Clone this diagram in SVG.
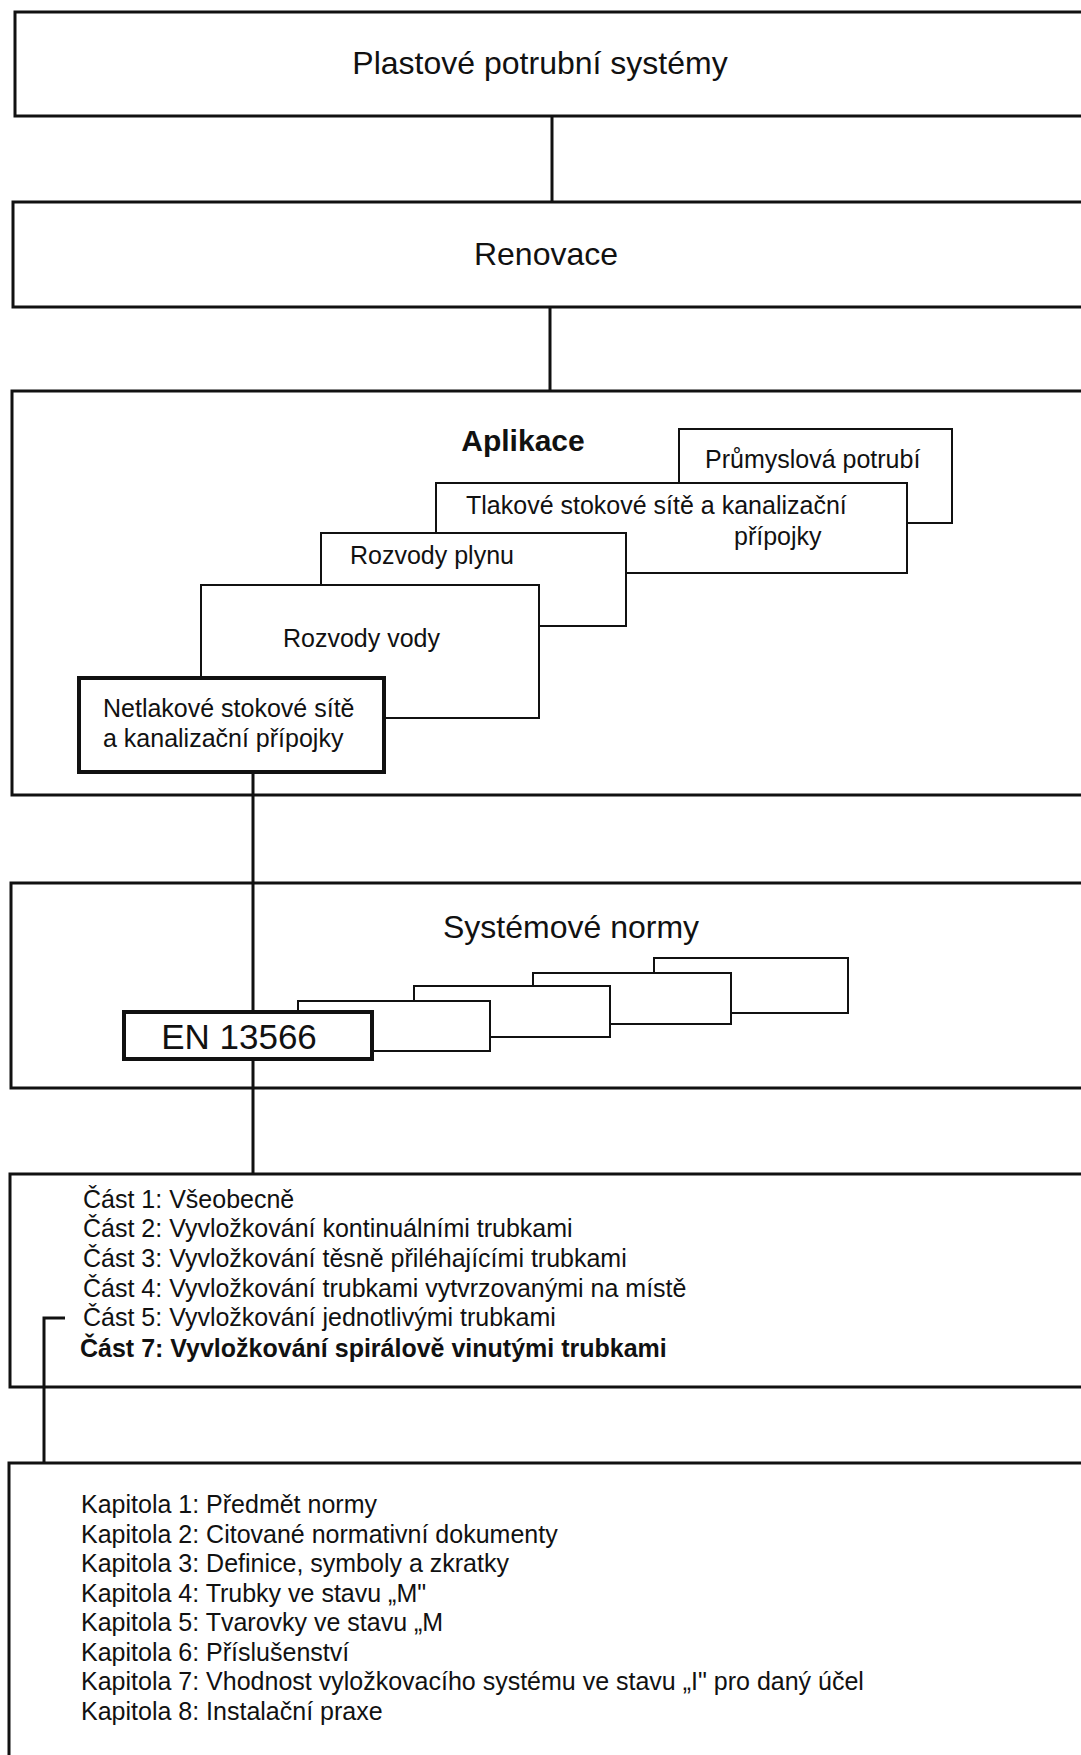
<svg xmlns="http://www.w3.org/2000/svg" width="1081" height="1755" viewBox="0 0 1081 1755">
<style>
.frame{fill:#fff;stroke:#111;stroke-width:3}
.card{fill:#fff;stroke:#111;stroke-width:2}
.key{fill:#fff;stroke:#111;stroke-width:4}
.conn{fill:none;stroke:#111;stroke-width:3}
text{font-family:"Liberation Sans",Arial,sans-serif;fill:#111}
.h{font-size:32px}
.hb{font-size:30px;font-weight:bold}
.t{font-size:25px}
.tb{font-size:25px;font-weight:bold}
.en{font-size:35px}
</style>
<rect width="1081" height="1755" fill="#fff"/>
<g id="plastove">
<rect class="frame" x="15" y="12" width="1080" height="104"/>
<text class="h" x="540" y="74" text-anchor="middle">Plastové potrubní systémy</text>
</g>
<g id="renovace">
<rect class="frame" x="13" y="202" width="1080" height="105"/>
<text class="h" x="546" y="265" text-anchor="middle">Renovace</text>
</g>
<g id="aplikace">
<rect class="frame" x="12" y="391" width="1080" height="404"/>
<text class="hb" x="523" y="451" text-anchor="middle">Aplikace</text>
</g>
<g id="systemove-normy">
<rect class="frame" x="11" y="883" width="1080" height="205"/>
<text class="h" x="571" y="938" text-anchor="middle">Systémové normy</text>
</g>
<g id="casti">
<rect class="frame" x="10" y="1174" width="1080" height="213"/>
<text class="t" x="83" y="1208">Část 1: Všeobecně</text>
<text class="t" x="83" y="1237">Část 2: Vyvložkování kontinuálními trubkami</text>
<text class="t" x="83" y="1267">Část 3: Vyvložkování těsně přiléhajícími trubkami</text>
<text class="t" x="83" y="1297">Část 4: Vyvložkování trubkami vytvrzovanými na místě</text>
<text class="t" x="83" y="1326">Část 5: Vyvložkování jednotlivými trubkami</text>
<text class="tb" x="80" y="1357">Část 7: Vyvložkování spirálově vinutými trubkami</text>
</g>
<g id="kapitoly">
<rect class="frame" x="9" y="1463" width="1080" height="320"/>
<text class="t" x="81" y="1513">Kapitola 1: Předmět normy</text>
<text class="t" x="81" y="1542.5">Kapitola 2: Citované normativní dokumenty</text>
<text class="t" x="81" y="1572">Kapitola 3: Definice, symboly a zkratky</text>
<text class="t" x="81" y="1601.5">Kapitola 4: Trubky ve stavu „M"</text>
<text class="t" x="81" y="1631">Kapitola 5: Tvarovky ve stavu „M</text>
<text class="t" x="81" y="1660.5">Kapitola 6: Příslušenství</text>
<text class="t" x="81" y="1690">Kapitola 7: Vhodnost vyložkovacího systému ve stavu „I" pro daný účel</text>
<text class="t" x="81" y="1719.5">Kapitola 8: Instalační praxe</text>
</g>
<g id="connectors">
<path class="conn" d="M552 116 V202"/>
<path class="conn" d="M550 307 V391"/>
<path class="conn" d="M253 772 V1174"/>
<path class="conn" d="M65 1318 H44 V1463"/>
</g>
<g id="prumyslova">
<rect class="card" x="679" y="429" width="273" height="94"/>
<text class="t" x="705" y="468">Průmyslová potrubí</text>
</g>
<g id="tlakove">
<rect class="card" x="436" y="483" width="471" height="90"/>
<text class="t" x="466" y="514">Tlakové stokové sítě a kanalizační</text>
<text class="t" x="734" y="545">přípojky</text>
</g>
<g id="plyn">
<rect class="card" x="321" y="533" width="305" height="93"/>
<text class="t" x="350" y="564">Rozvody plynu</text>
</g>
<g id="voda">
<rect class="card" x="201" y="585" width="338" height="133"/>
<text class="t" x="283" y="647">Rozvody vody</text>
</g>
<g id="netlakove">
<rect class="key" x="79" y="678" width="305" height="94"/>
<text class="t" x="103" y="717">Netlakové stokové sítě</text>
<text class="t" x="103" y="747">a kanalizační přípojky</text>
</g>
<g id="norma-4">
<rect class="card" x="654" y="958" width="194" height="55"/>
</g>
<g id="norma-3">
<rect class="card" x="533" y="973" width="198" height="51"/>
</g>
<g id="norma-2">
<rect class="card" x="414" y="986" width="196" height="51"/>
</g>
<g id="norma-1">
<rect class="card" x="298" y="1001" width="192" height="50"/>
</g>
<g id="en13566">
<rect class="key" x="124" y="1012" width="248" height="47"/>
<text class="en" x="239" y="1049" text-anchor="middle">EN 13566</text>
</g>
</svg>
